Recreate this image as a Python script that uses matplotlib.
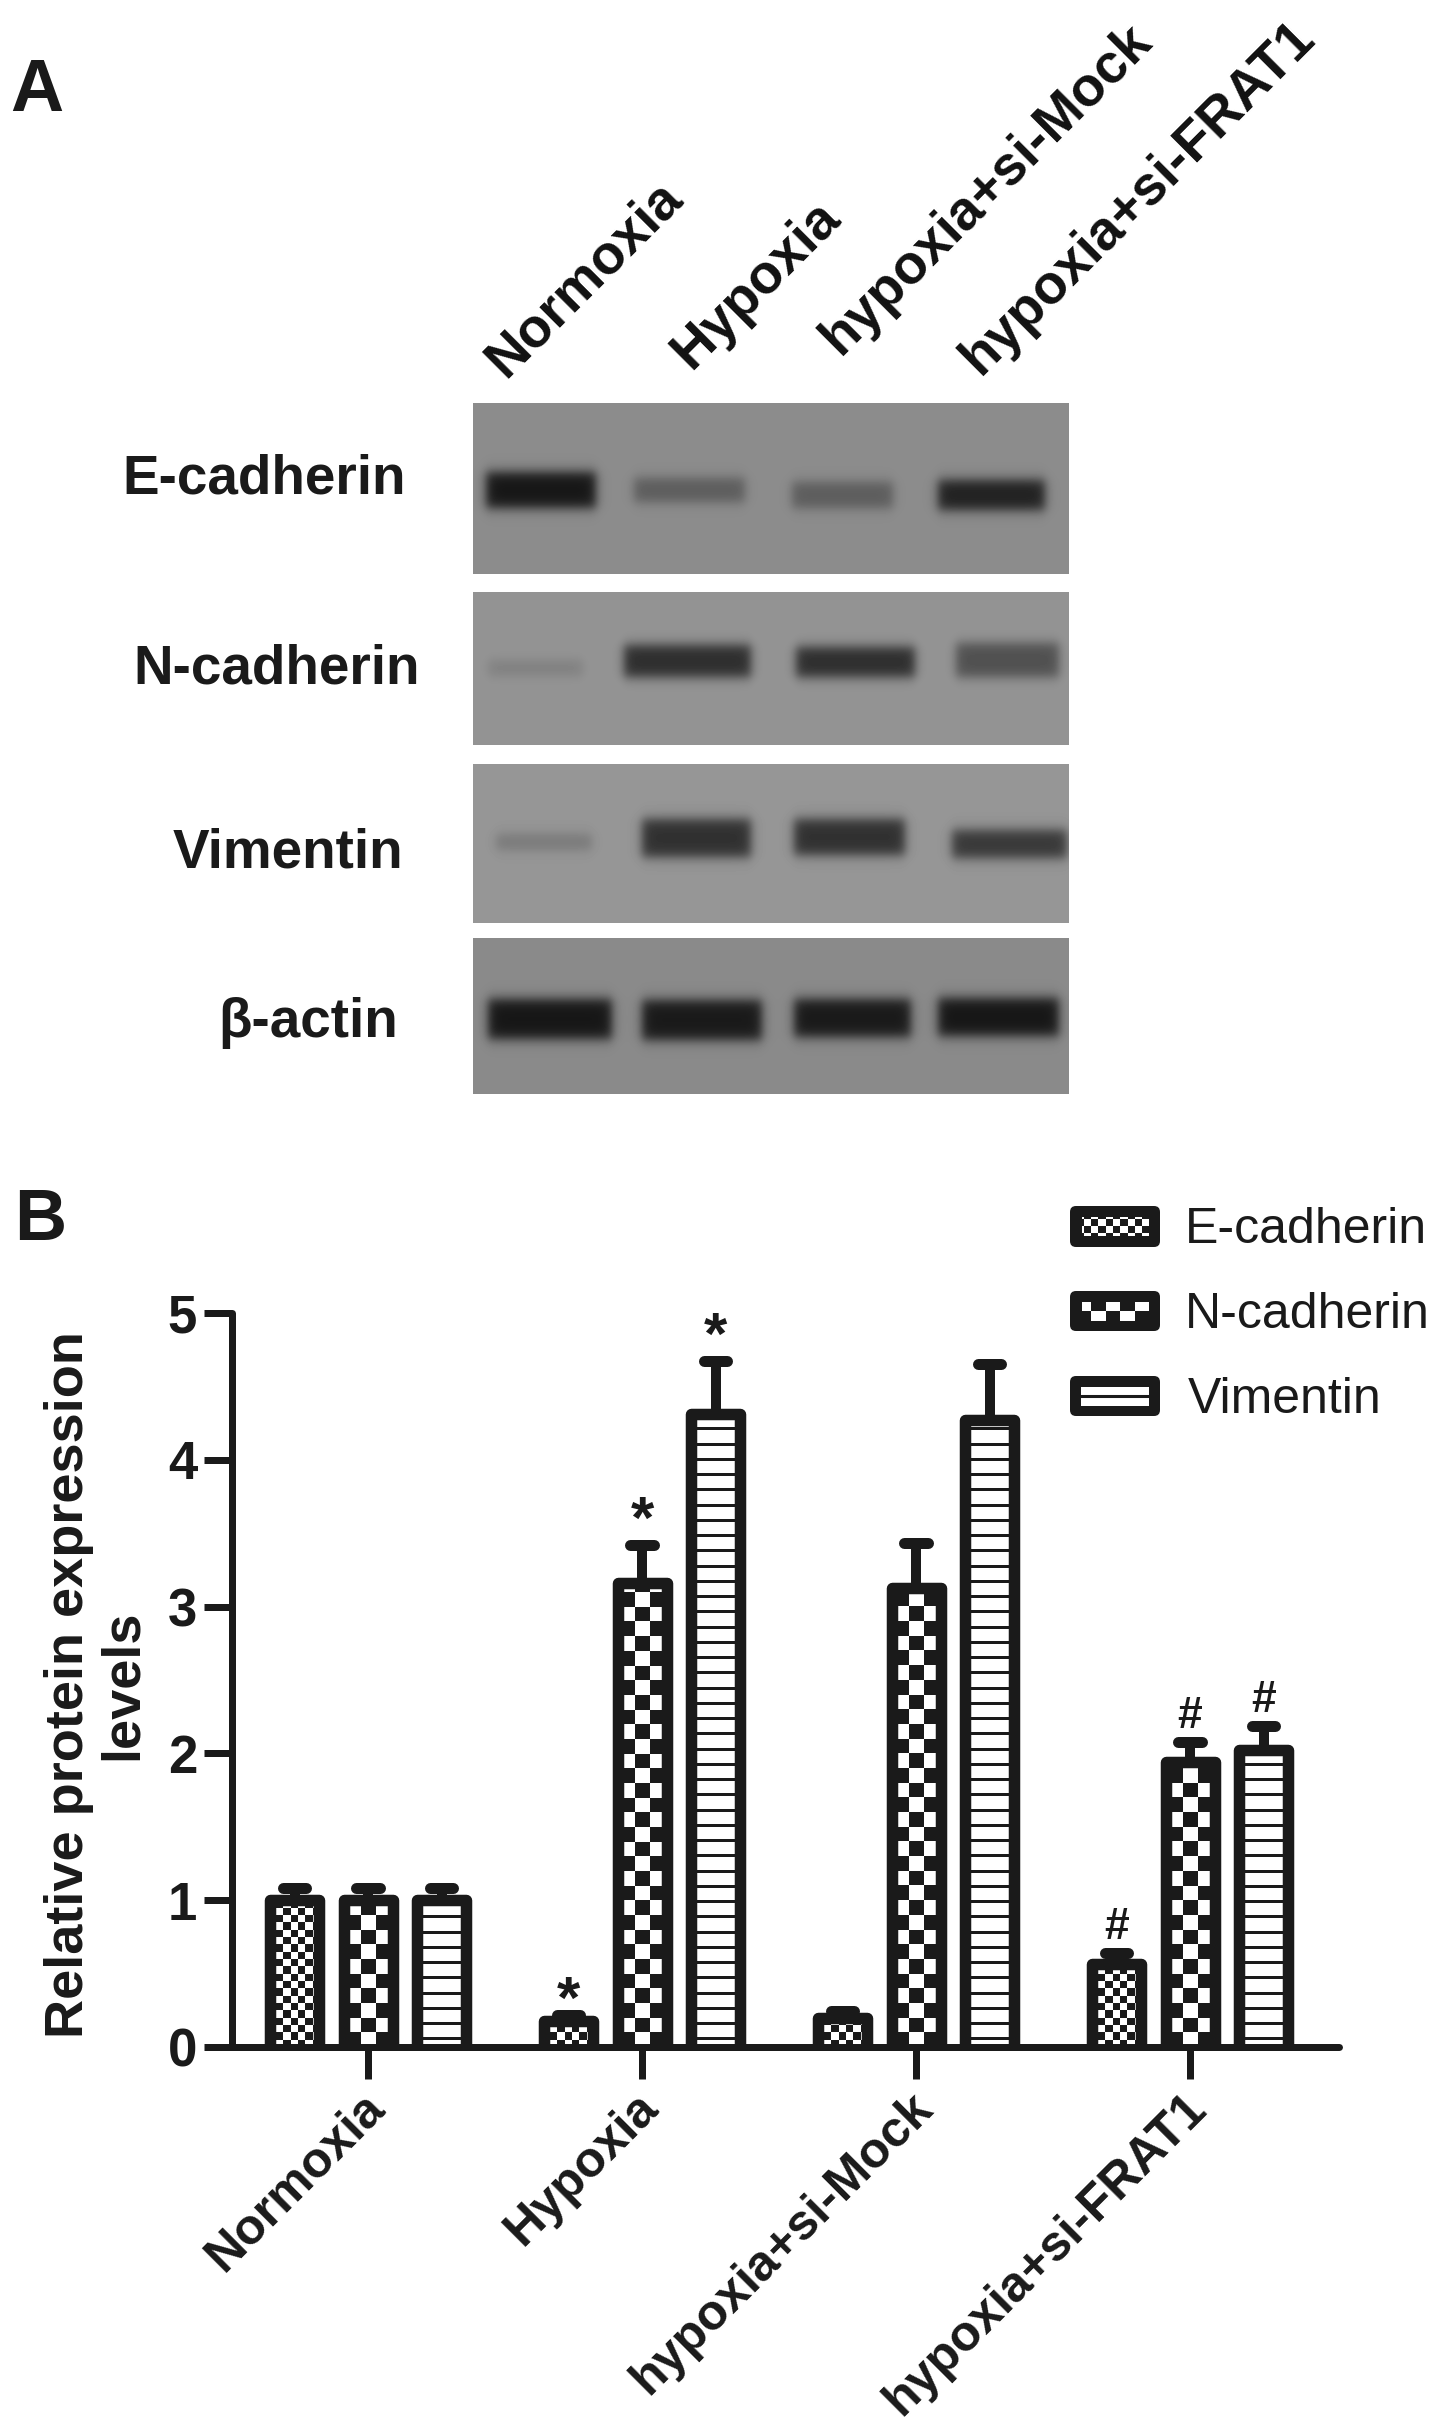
# -*- coding: utf-8 -*-
import numpy as np
import matplotlib
matplotlib.use('Agg')
from matplotlib import pyplot as plt
from matplotlib.colors import ListedColormap
from matplotlib.patches import FancyBboxPatch, Rectangle
from matplotlib.transforms import ScaledTranslation

plt.rcParams['font.family'] = ['Liberation Sans', 'DejaVu Sans']

W, H = 1441, 2427
INK = '#1a1a1a'

groups = ['Normoxia', 'Hypoxia', 'hypoxia+si-Mock', 'hypoxia+si-FRAT1']
series = ['E-cadherin', 'N-cadherin', 'Vimentin']
blot_rows = ['E-cadherin', 'N-cadherin', 'Vimentin', 'β-actin']

# bar heights, one list per series
ecad = [1.0, 0.18, 0.20, 0.565]
ncad = [1.0, 3.16, 3.13, 1.94]
vim = [1.0, 4.31, 4.27, 2.02]
# top of error bars
ecad_top = [1.085, 0.22, 0.245, 0.64]
ncad_top = [1.085, 3.42, 3.43, 2.08]
vim_top = [1.085, 4.675, 4.65, 2.19]
# significance marks
ecad_sig = ['', '*', '', '#']
ncad_sig = ['', '*', '', '#']
vim_sig = ['', '*', '', '#']

# western blot: grey level of background and of the darkest part of each band
blot_bg = [140, 148, 150, 138]
band_grey = [[22, 92, 92, 32],
             [128, 45, 45, 80],
             [120, 48, 48, 55],
             [22, 25, 25, 22]]
# where things sit on the image, in pixels
panel_y = [(403, 574), (592, 745), (764, 923), (938, 1094)]
panel_x = (473, 1069)
band_x = [[(486, 596), (634, 745), (792, 893), (938, 1045)],
          [(488, 583), (624, 751), (796, 915), (956, 1059)],
          [(496, 592), (642, 751), (794, 905), (952, 1067)],
          [(488, 612), (642, 762), (794, 911), (938, 1059)]]
band_y = [[490, 490, 495, 495],
          [668, 661, 662, 660],
          [842, 838, 837, 844],
          [1019, 1020, 1018, 1017]]
band_h = [[18, 12, 13, 15],
          [8, 16, 15, 17],
          [8, 19, 18, 14],
          [20, 20, 19, 19]]

fig = plt.figure(figsize=(W / 100, H / 100), dpi=100, facecolor='white')

# overlay in pixel coordinates for panel A, labels and legend
over = fig.add_axes([0, 0, 1, 1], zorder=5)
over.patch.set_alpha(0)
over.axis('off')


def smooth(t, a, b, soft):
    return 0.5 * (np.tanh((t - a) / soft) - np.tanh((t - b) / soft))


for r in range(4):
    y0, y1 = panel_y[r]
    xx = np.arange(panel_x[0], panel_x[1]) + 0.5
    yy = np.arange(y0, y1) + 0.5
    img = np.full((len(yy), len(xx)), float(blot_bg[r]))
    for b in range(4):
        xa, xb = band_x[r][b]
        prof = np.outer(smooth(yy, band_y[r][b] - band_h[r][b], band_y[r][b] + band_h[r][b], 7.0),
                        smooth(xx, xa, xb, 6.0))
        img = img + prof * (band_grey[r][b] - blot_bg[r])
    over.imshow(img, cmap='gray', vmin=0, vmax=255, aspect='auto',
                extent=(panel_x[0], panel_x[1], y1, y0), interpolation='bilinear')

row_x = [264, 277, 288, 308]
row_y = [479, 670, 853, 1023]
for name, x, y in zip(blot_rows, row_x, row_y):
    over.text(x, y, name, fontsize=39.5, fontweight='bold', ha='center', va='center', color=INK)

top_end = [(684, 200), (842, 220), (1153, 43), (1316, 40)]
for name, (x, y) in zip(groups, top_end):
    over.text(x, y, name, fontsize=39.5, fontweight='bold', rotation=45, rotation_mode='anchor',
              ha='right', va='baseline', color='#111111')
over.text(10, 111, 'A', fontsize=53, fontweight='bold', color=INK)
over.text(14, 1240, 'B', fontsize=52, fontweight='bold', color=INK)
over.text(96, 1685, 'Relative protein expression\nlevels', fontsize=39, fontweight='bold', rotation=90,
          ha='center', va='center', multialignment='center', linespacing=1.08, color=INK)

# panel B axes
ax_l, ax_r, ax_b, ax_t = 232, 1339, 2047, 1313
ax = fig.add_axes([ax_l / W, 1 - ax_b / H, (ax_r - ax_l) / W, (ax_b - ax_t) / H])
ax.patch.set_alpha(0)
px_x = 274.0
px_y = (ax_b - ax_t) / 5.0
x_min = (ax_l - 368) / px_x
x_max = (ax_r - 368) / px_x
cmap = ListedColormap(['white', INK])


def checker(axes, cx, cell, n_rows, clip, bottom=0.0, sx=px_x, sy=px_y):
    # checker tiles counted from the bottom, centred on cx
    cols = 11 if cell < 10 else 5
    rr, cc = np.indices((n_rows, cols))
    arr = (rr + cc + (cols // 2)) % 2
    half = cols * cell / 2.0 / sx
    im = axes.imshow(arr, cmap=cmap, vmin=0, vmax=1, origin='lower', aspect='auto', interpolation='nearest',
                     extent=(cx - half, cx + half, bottom, bottom + n_rows * cell / sy), zorder=2)
    if clip is not None:
        im.set_clip_path(clip)
    return im


offsets = [-73.5 / px_x, 0.0, 73.5 / px_x]
heights = [ecad, ncad, vim]
tops = [ecad_top, ncad_top, vim_top]
signs = [ecad_sig, ncad_sig, vim_sig]
cells = [7.33, 14.67, None]
star_gap = [-3, 7, 7]
xpos = np.arange(len(groups))
lift = 0.04  # bottom edge of the bars goes under the axis line

for s in range(3):
    x = xpos + offsets[s]
    vals = np.array(heights[s])
    bars = ax.bar(x, vals + lift, bottom=-lift, width=49 / px_x, facecolor='none', edgecolor=INK,
                  linewidth=11.5 * 0.72, joinstyle='round', zorder=3)
    for i, p in enumerate(bars):
        if cells[s] is not None:
            n = int(vals[i] * px_y / cells[s]) + 2
            checker(ax, x[i], cells[s], n, p)
        else:
            ly = np.arange(8.7, vals[i] * px_y, 15.25) / px_y
            ln = ax.hlines(ly, x[i] - 0.09, x[i] + 0.09, color=INK, linewidth=3 * 0.72, zorder=2)
            ln.set_clip_path(p)
    for i in range(4):
        ax.plot([x[i], x[i]], [vals[i], tops[s][i]], color=INK, lw=10 * 0.72, solid_capstyle='butt', zorder=3)
        ax.plot([x[i] - 0.042, x[i] + 0.042], [tops[s][i], tops[s][i]], color=INK, lw=11 * 0.72,
                solid_capstyle='round', zorder=3)
        mark = signs[s][i]
        if mark == '*':
            ax.annotate(mark, (x[i], tops[s][i]), xytext=(0, star_gap[s] * 0.72), textcoords='offset points',
                        ha='center', va='baseline', fontsize=43, fontweight='bold', color=INK)
        elif mark == '#':
            ax.annotate(mark, (x[i], tops[s][i]), xytext=(0, 14 * 0.72), textcoords='offset points', ha='center',
                        va='baseline', fontsize=32, fontweight='bold', color=INK)

ax.set_xlim(x_min, x_max)
ax.set_ylim(0, 5)
ax.set_yticks(range(6))
ax.set_xticks(xpos)
ax.set_xticklabels(groups, rotation=45, ha='right', va='top', rotation_mode='anchor',
                   fontsize=36, fontweight='bold', color=INK)
ax.tick_params(axis='y', width=7 * 0.72, length=20, labelsize=38, pad=5, color=INK, labelcolor=INK)
for lab in ax.get_yticklabels():
    lab.set_fontweight('bold')
ax.tick_params(axis='x', width=7 * 0.72, length=23, pad=4, color=INK)
shift = ScaledTranslation(-7 / 100, 0.10 / 100, fig.dpi_scale_trans)
for lab in ax.get_xticklabels():
    lab.set_transform(lab.get_transform() + shift)
ax.spines['top'].set_visible(False)
ax.spines['right'].set_visible(False)
for side in ['left', 'bottom']:
    ax.spines[side].set_linewidth(7 * 0.72)
    ax.spines[side].set_color(INK)
    ax.spines[side].set_capstyle('round')

# legend
leg_y = [(1206, 1247), (1291, 1331), (1376, 1416)]
leg_text_x = [1185, 1185, 1188]
leg_cx = [1116.7, 1113.0, None]
leg_anchor = [34.67, 49.33, None]
for s in range(3):
    y0, y1 = leg_y[s]
    over.add_patch(FancyBboxPatch((1076, y0 + 6), 78, y1 - y0 - 12, boxstyle='round,pad=6', facecolor=INK,
                                  edgecolor='none'))
    if cells[s] is not None:
        inner = Rectangle((1082, y0 + 11), 67, 19, transform=over.transData)
        n = int(45 / cells[s]) + 1
        checker(over, leg_cx[s], cells[s], n, inner, bottom=y0 + leg_anchor[s], sx=1.0, sy=-1.0).set_zorder(3)
    else:
        over.add_patch(Rectangle((1081, y0 + 11), 68, 19, facecolor='white', edgecolor='none'))
        over.plot([1081, 1149], [y0 + 20, y0 + 20], color=INK, lw=2.2)
    over.text(leg_text_x[s], y0 + 24, series[s], fontsize=36, va='center', ha='left', color=INK)

over.set_xlim(0, W)
over.set_ylim(H, 0)

fig.savefig('out.png', dpi=100, facecolor='white')
